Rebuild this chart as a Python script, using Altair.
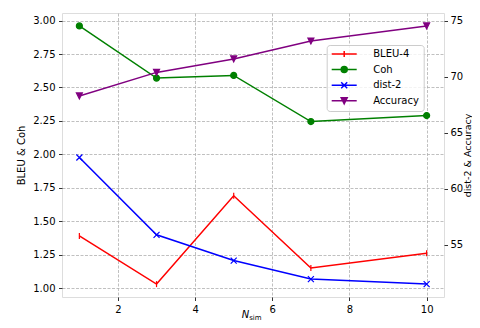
import altair as alt
import pandas as pd

# ---- data ----
n_sim = [1, 3, 5, 7, 10]
bleu4 = [1.39, 1.03, 1.69, 1.15, 1.26]
coh = [2.96, 2.57, 2.59, 2.245, 2.29]
dist2 = [62.8, 55.9, 53.6, 51.95, 51.5]
accuracy = [68.3, 70.4, 71.6, 73.2, 74.55]

series_names = ["BLEU-4", "Coh", "dist-2", "Accuracy"]
series_colors = ["#ff0000", "#008000", "#0000ff", "#800080"]
left_ticks = [1.0, 1.25, 1.5, 1.75, 2.0, 2.25, 2.5, 2.75, 3.0]
right_ticks = [55, 60, 65, 70, 75]
x_ticks = [2, 4, 6, 8, 10]

marker_paths = ["M0,-1L0,1", "circle", "M-1,-1L1,1M-1,1L1,-1", "M-1,-1L1,-1L0,1Z"]
seg = "M-4.17,0L4.17,0"
legend_paths = [
    seg + "M0,-1L0,1",
    seg + "M1,0A1,1 0 1 1 -1,0A1,1 0 1 1 1,0Z",
    seg + "M-1,-1L1,1M-1,1L1,-1",
    seg + "M-1,-1L1,-1L0,1Z",
]

rows = []
for name, vals in zip(series_names, [bleu4, coh, dist2, accuracy]):
    for xv, v in zip(n_sim, vals):
        rows.append({"series": name, "n": xv, "v": v})
df = pd.DataFrame(rows)
left_df = df[df.series.isin(["BLEU-4", "Coh"])]
right_df = df[df.series.isin(["dist-2", "Accuracy"])]


def padded(vals):
    lo, hi = min(vals), max(vals)
    m = (hi - lo) * 0.05
    return [lo - m, hi + m]


left_dom = padded(bleu4 + coh)
right_dom = padded(dist2 + accuracy)
x_dom = padded(n_sim)

FONT = "DejaVu Sans"
GRID = dict(grid=True, gridColor="#b0b0b0", gridDash=[3, 1.5], gridWidth=0.8)
common_axis = dict(
    domain=False, ticks=True, tickSize=3.5, tickWidth=0.8, tickColor="black",
    labelFont=FONT, labelFontSize=10, labelColor="black",
    titleFont=FONT, titleFontWeight="normal", titleColor="black",
)

x_axis = alt.Axis(values=x_ticks, title=None, format="d", labelPadding=3.5, **GRID, **common_axis)
x_enc = alt.X("n:Q", scale=alt.Scale(domain=x_dom, nice=False, zero=False), axis=x_axis)

left_axis = alt.Axis(values=left_ticks, format=".2f", title="BLEU & Coh", orient="left",
                     labelPadding=3.5, titlePadding=6, titleFontSize=10, **GRID, **common_axis)
right_axis = alt.Axis(values=right_ticks, format="d", title="dist-2 & Accuracy", orient="right",
                      grid=False, titleAngle=270, titleBaseline="top", labelPadding=2.5,
                      titlePadding=0, titleFontSize=9.5, **common_axis)

color_sc = alt.Scale(domain=series_names, range=series_colors)
shape_sc = alt.Scale(domain=series_names, range=marker_paths)


def panel(data, axis, dom):
    y_enc = alt.Y("v:Q", scale=alt.Scale(domain=dom, nice=False, zero=False), axis=axis)
    line = alt.Chart(data).mark_line(strokeWidth=1.5).encode(
        x=x_enc, y=y_enc, color=alt.Color("series:N", scale=color_sc, legend=None),
        detail="series:N",
    )
    pts = alt.Chart(data).mark_point(filled=False, opacity=1, strokeWidth=1.2, size=36).encode(
        x=x_enc, y=y_enc,
        color=alt.Color("series:N", scale=color_sc, legend=None),
        fill=alt.Fill("series:N", scale=color_sc, legend=None),
        shape=alt.Shape("series:N", scale=shape_sc, legend=None),
    )
    return alt.layer(line, pts)


leg = alt.Legend(
    title=None, orient="none", legendX=264.7, legendY=32, padding=4,
    symbolSize=36, symbolStrokeWidth=1.5, symbolOffset=8.5, labelOffset=24,
    rowPadding=3.6, labelFont=FONT, labelFontSize=10, labelColor="black",
    fillColor="rgba(255,255,255,0.8)", strokeColor="#cccccc", cornerRadius=3,
)
legend_layer = alt.Chart(df).transform_filter("false").mark_point(
    filled=False, opacity=1, strokeWidth=1.5, size=36
).encode(
    color=alt.Color("series:N", scale=color_sc, legend=leg),
    fill=alt.Fill("series:N", scale=color_sc, legend=leg),
    shape=alt.Shape("series:N", scale=alt.Scale(domain=series_names, range=legend_paths), legend=leg),
)

label_n = alt.Chart(alt.Data(values=[{"t": "N"}])).mark_text(
    font=FONT, fontSize=10, fontStyle="italic", align="left", baseline="alphabetic", color="black"
).encode(x=alt.value(179.7), y=alt.value(305), text="t:N")
label_sim = alt.Chart(alt.Data(values=[{"t": "sim"}])).mark_text(
    font=FONT, fontSize=7, align="left", baseline="alphabetic", color="black"
).encode(x=alt.value(187.2), y=alt.value(306.5), text="t:N")

chart = alt.layer(
    panel(left_df, left_axis, left_dom),
    panel(right_df, right_axis, right_dom),
    legend_layer, label_n, label_sim,
).resolve_scale(
    y="independent", color="independent", fill="independent", shape="independent"
).properties(
    width=382, height=284,
    autosize=alt.AutoSizeParams(type="none"),
    padding={"left": 54, "right": 28, "top": 5, "bottom": 23},
).configure_view(stroke="black", strokeWidth=1).configure(background="white")

chart.save("out.html", embed_options={"renderer": "svg", "actions": False})
